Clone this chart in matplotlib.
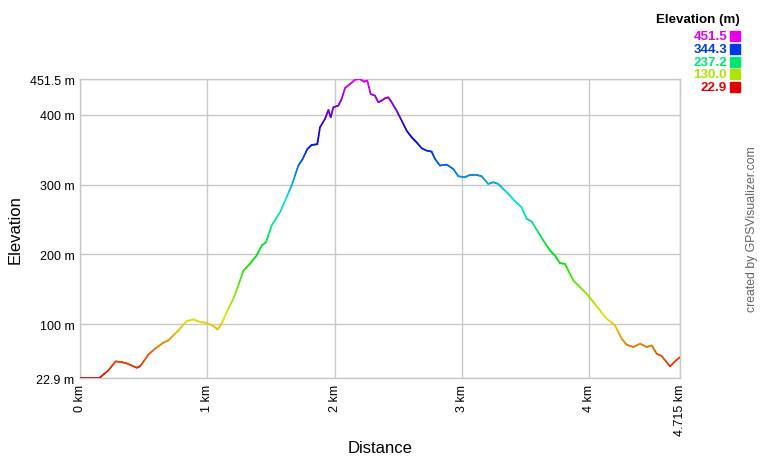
import numpy as np
import matplotlib
matplotlib.use("Agg")
import matplotlib.pyplot as plt
from matplotlib.collections import LineCollection
import colorsys

plt.rcParams['font.family'] = ['Liberation Sans', 'DejaVu Sans']

distance_km = [0.0, 0.152, 0.223, 0.280, 0.327, 0.367, 0.445, 0.472, 0.537, 0.589,
               0.655, 0.694, 0.773, 0.838, 0.891, 0.930, 0.995, 1.048, 1.082, 1.113,
               1.153, 1.205, 1.244, 1.284, 1.336, 1.388, 1.428, 1.462, 1.506, 1.572,
               1.624, 1.663, 1.716, 1.750, 1.787, 1.821, 1.865, 1.886, 1.925, 1.952,
               1.970, 1.991, 2.030, 2.056, 2.083, 2.122, 2.161, 2.200, 2.232, 2.258,
               2.284, 2.318, 2.344, 2.370, 2.396, 2.423, 2.449, 2.488, 2.528, 2.567,
               2.606, 2.645, 2.685, 2.724, 2.763, 2.790, 2.829, 2.881, 2.933, 2.973,
               3.025, 3.064, 3.116, 3.156, 3.208, 3.248, 3.287, 3.326, 3.379, 3.418,
               3.470, 3.510, 3.549, 3.601, 3.641, 3.693, 3.732, 3.771, 3.811, 3.837,
               3.876, 3.929, 3.994, 4.034, 4.086, 4.139, 4.204, 4.257, 4.296, 4.349,
               4.401, 4.453, 4.493, 4.532, 4.571, 4.637, 4.676, 4.715]
elevation_m = [22.9, 22.9, 33.8, 46.7, 45.7, 43.9, 37.6, 39.6, 56.3, 64.9,
               73.5, 76.8, 91.1, 104.5, 106.9, 104.0, 101.6, 97.3, 92.6, 100.7,
               117.4, 136.5, 155.5, 177.0, 186.6, 198.5, 212.8, 217.6, 241.5, 260.6,
               282.0, 298.8, 327.4, 336.9, 351.3, 357.0, 358.0, 382.3, 394.2, 407.1,
               396.6, 410.9, 413.3, 422.9, 438.6, 444.3, 450.5, 451.5, 447.7, 449.1,
               430.0, 427.6, 418.1, 420.5, 423.8, 425.2, 418.1, 406.2, 391.8, 377.5,
               368.0, 360.8, 352.2, 348.9, 347.4, 336.9, 327.4, 328.8, 322.6, 312.1,
               310.7, 314.0, 314.0, 312.1, 301.1, 303.5, 301.1, 294.0, 284.4, 276.3,
               267.7, 251.0, 247.2, 231.9, 220.0, 205.7, 198.5, 187.5, 186.6, 177.0,
               162.7, 153.2, 141.2, 131.7, 119.8, 107.8, 98.3, 79.2, 70.6, 67.3,
               72.0, 67.3, 69.6, 57.7, 54.4, 39.6, 46.7, 52.9]

y_ticks = [22.9, 100, 200, 300, 400, 451.5]
y_tick_labels = ["22.9 m", "100 m", "200 m", "300 m", "400 m", "451.5 m"]
x_ticks = [0, 1, 2, 3, 4, 4.715]
x_tick_labels = ["0 km", "1 km", "2 km", "3 km", "4 km", "4.715 km"]
legend_values = [451.5, 344.3, 237.2, 130.0, 22.9]

emin, emax = 22.9, 451.5


def elev_color(e):
    frac = (e - emin) / (emax - emin)
    frac = min(max(frac, 0), 1)
    r, g, b = colorsys.hsv_to_rgb(frac * 300 / 360.0, 1.0, 0.9)
    return (r, g, b)


W, H = 760, 460
fig = plt.figure(figsize=(W / 100, H / 100), dpi=100)
ax = fig.add_axes([80 / W, 1 - 379 / H, 600 / W, 299 / H])

# densify for smooth colour gradient
xd = np.array(distance_km)
yd = np.array(elevation_m)
xs, ys = [], []
for i in range(len(xd) - 1):
    t = np.linspace(0, 1, 6, endpoint=False)
    xs.extend(xd[i] + (xd[i + 1] - xd[i]) * t)
    ys.extend(yd[i] + (yd[i + 1] - yd[i]) * t)
xs.append(xd[-1]); ys.append(yd[-1])
xs = np.array(xs); ys = np.array(ys)
pts = np.column_stack([xs, ys]).reshape(-1, 1, 2)
segs = np.concatenate([pts[:-1], pts[1:]], axis=1)
cols = [elev_color((ys[i] + ys[i + 1]) / 2) for i in range(len(ys) - 1)]
lc = LineCollection(segs, colors=cols, linewidths=1.2, capstyle='round', zorder=3)
ax.add_collection(lc)

ax.set_xlim(0, 4.715)
ax.set_ylim(emin, emax)
ax.set_xticks(x_ticks)
ax.set_xticklabels(x_tick_labels, rotation=90, fontsize=9)
ax.set_yticks(y_ticks)
ax.set_yticklabels(y_tick_labels, fontsize=9)
ax.tick_params(length=0, pad=4)
ax.grid(True, color='#c8c8c8', linewidth=1)
for s in ax.spines.values():
    s.set_color('#c8c8c8')
    s.set_linewidth(1)
ax.set_axisbelow(True)

fig.text(15 / W, 1 - 230 / H, "Elevation", rotation=90, ha='center', va='center', fontsize=12)
fig.text(380 / W, 1 - 449 / H, "Distance", ha='center', va='center', fontsize=12)

fig.text(740 / W, 1 - 20 / H, "Elevation (m)", ha='right', va='center', fontsize=9.6, fontweight='bold')
for i, v in enumerate(legend_values):
    yc = 37 + i * 12.8
    c = elev_color(v)
    fig.text(727 / W, 1 - yc / H, f"{v:.1f}", ha='right', va='center', fontsize=9.6,
             fontweight='bold', color=c)
    fig.patches.append(plt.Rectangle((730 / W, 1 - (yc + 5) / H), 10 / W, 10 / H,
                                     transform=fig.transFigure, color=c, figure=fig))

fig.text(752 / W, 1 - 229 / H, "created by GPSVisualizer.com", rotation=90,
         ha='center', va='center', fontsize=8.8, color='#666666')

fig.savefig("out.png", dpi=100)
